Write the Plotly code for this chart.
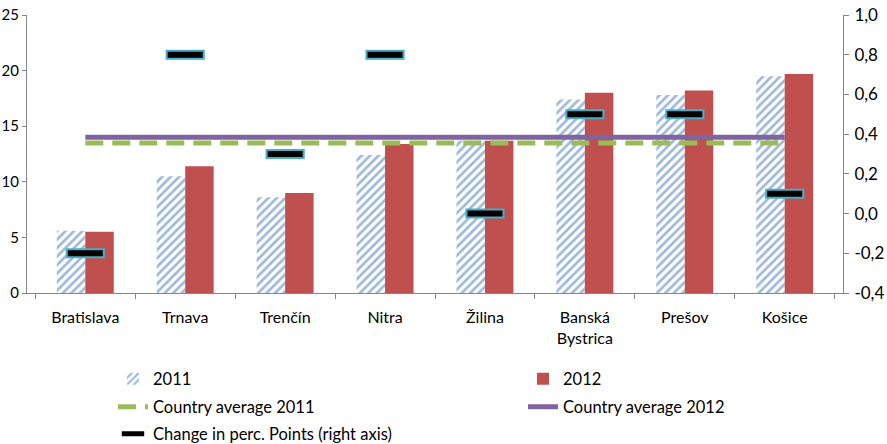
import plotly.graph_objects as go

categories = ["Bratislava", "Trnava", "Trenčín", "Nitra", "Žilina", "Banská<br>Bystrica", "Prešov", "Košice"]
values_2011 = [5.6, 10.5, 8.6, 12.4, 13.7, 17.4, 17.8, 19.5]
values_2012 = [5.5, 11.4, 9.0, 13.4, 13.7, 18.0, 18.2, 19.7]
country_avg_2011 = 13.5
country_avg_2012 = 14.0
change_pp = [-0.2, 0.8, 0.3, 0.8, 0.0, 0.5, 0.5, 0.1]
left_ticks = [0, 5, 10, 15, 20, 25]
right_tickvals = [-0.4, -0.2, 0.0, 0.2, 0.4, 0.6, 0.8, 1.0]
right_ticktext = ["-0,4", "-0,2", "0,0", "0,2", "0,4", "0,6", "0,8", "1,0"]

FONT = "Lato"
W, H = 887, 444
ML, MR, MT, MB = 27, 44, 15, 151

def cx(px):
    return px / W

def cy(py):
    return 1 - py / H

fig = go.Figure()

fig.add_trace(go.Bar(
    x=categories, y=values_2011, name="2011", legend="legend",
    marker=dict(color="white", line=dict(width=0),
                pattern=dict(shape="/", fgcolor="#3E72B4", bgcolor="white", size=6, solidity=0.45)),
))
fig.add_trace(go.Bar(
    x=categories, y=values_2012, name="2012", legend="legend2",
    marker=dict(color="#C0504D", line=dict(width=0)),
))
fig.add_trace(go.Scatter(
    x=categories, y=[country_avg_2011] * len(categories), name="Country average 2011",
    legend="legend3", mode="lines",
    line=dict(color="#9BBB59", width=5, dash="18px,9px"),
))
fig.add_trace(go.Scatter(
    x=categories, y=[country_avg_2012] * len(categories), name="Country average 2012",
    legend="legend4", mode="lines",
    line=dict(color="#8064A2", width=5),
))
fig.add_trace(go.Scatter(
    x=categories, y=change_pp, yaxis="y2", mode="markers", showlegend=False,
    marker=dict(symbol="line-ew", size=28, line=dict(color="#4BACC6", width=10)),
    hoverinfo="skip",
))
fig.add_trace(go.Scatter(
    x=categories, y=change_pp, yaxis="y2", mode="markers",
    name="Change in perc. Points (right axis)", legend="legend5",
    marker=dict(symbol="line-ew", size=25, line=dict(color="black", width=6)),
))

legend_common = dict(orientation="v", bgcolor="rgba(0,0,0,0)", font=dict(family=FONT, size=16.5, color="black"),
                     xanchor="left", yanchor="middle", xref="container", yref="container", itemclick=False)

fig.update_layout(
    width=W, height=H,
    margin=dict(l=ML, r=MR, t=MT, b=MB, autoexpand=False),
    paper_bgcolor="white", plot_bgcolor="white",
    font=dict(family=FONT, size=16, color="black"),
    barmode="group", bargap=0.43, bargroupgap=0,
    xaxis=dict(showline=True, linecolor="#868686", linewidth=1, ticks="outside", tickson="boundaries",
               ticklen=5, tickcolor="#868686", showgrid=False, tickfont=dict(family=FONT, size=16),
               ticklabelstandoff=10, automargin=False),
    yaxis=dict(range=[0, 25], tickvals=left_ticks, showline=True, linecolor="#868686", ticks="outside",
               ticklen=4, tickcolor="#868686", showgrid=False, zeroline=False,
               tickfont=dict(family=FONT, size=15), ticklabelstandoff=0, automargin=False),
    yaxis2=dict(range=[-0.4, 1.0], overlaying="y", side="right", tickvals=right_tickvals,
                ticktext=right_ticktext, showline=True, linecolor="#868686", ticks="outside",
                ticklen=5, tickcolor="#868686", showgrid=False, zeroline=False,
                tickfont=dict(family=FONT, size=17), ticklabelstandoff=2, automargin=False),
    legend=dict(x=cx(113), y=cy(379), **legend_common),
    legend2=dict(x=cx(523), y=cy(379), **legend_common),
    legend3=dict(x=cx(113), y=cy(407), **legend_common),
    legend4=dict(x=cx(523), y=cy(407), **legend_common),
    legend5=dict(x=cx(113), y=cy(434), **legend_common),
    showlegend=True,
)

fig.write_html("out.html")
